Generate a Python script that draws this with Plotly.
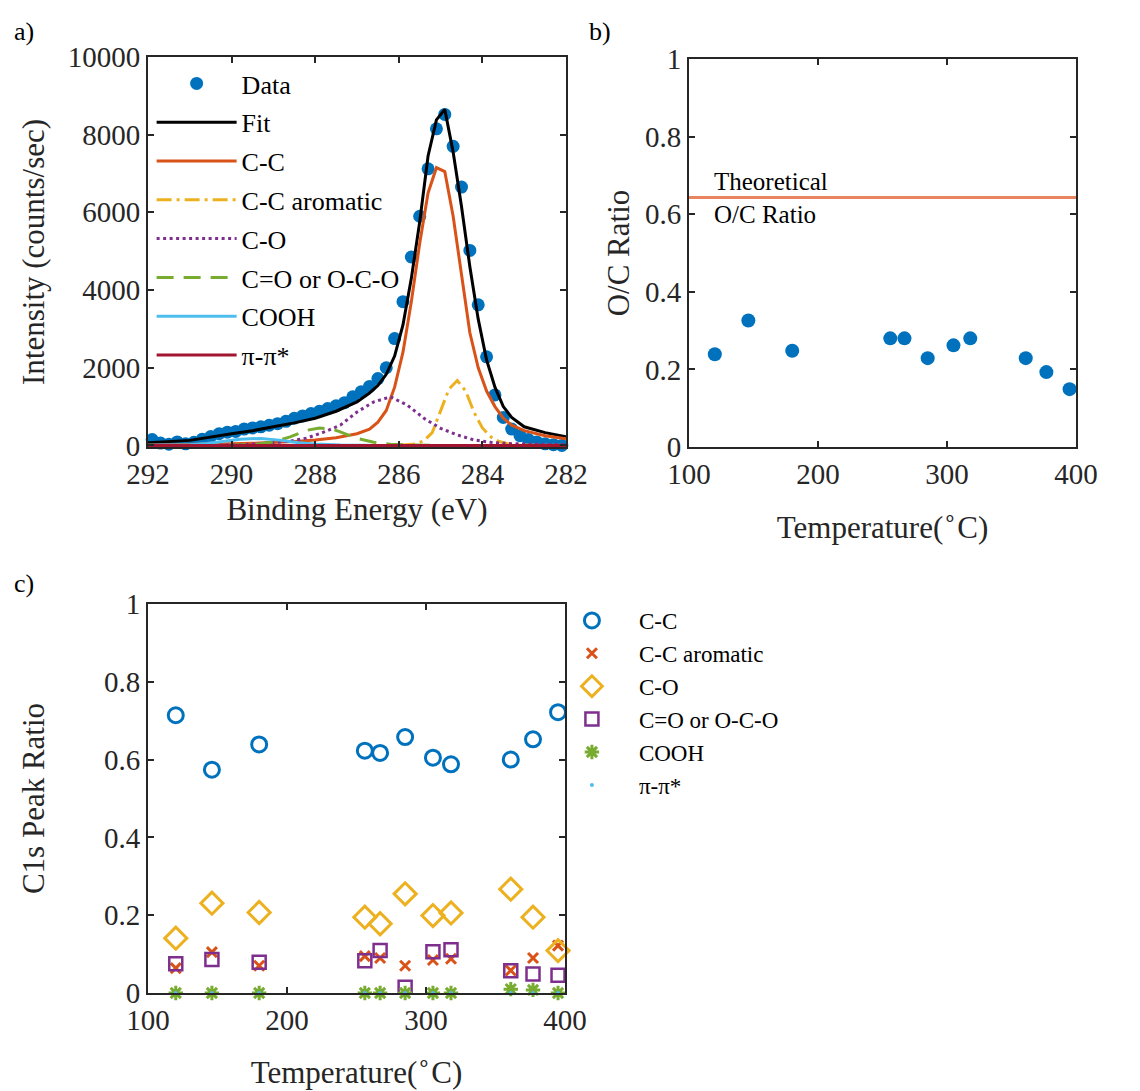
import plotly.graph_objects as go

# ---------------- Panel a: XPS C1s spectrum ----------------
data_energy = [291.9, 291.7, 291.5, 291.3, 291.1, 290.9, 290.7, 290.5, 290.3, 290.1,
               289.9, 289.7, 289.5, 289.3, 289.1, 288.9, 288.7, 288.5, 288.3, 288.1,
               287.9, 287.7, 287.5, 287.3, 287.1, 286.9, 286.7, 286.5, 286.3, 286.1,
               285.9, 285.7, 285.5, 285.3, 285.1, 284.9, 284.7, 284.5, 284.3, 284.1,
               283.9, 283.7, 283.5, 283.3, 283.1, 282.9, 282.7, 282.5, 282.3, 282.1]
data_intensity = [150, 60, 30, 90, 40, 80, 160, 230, 300, 340,
                  360, 420, 450, 480, 520, 560, 620, 700, 760, 820,
                  880, 950, 1020, 1100, 1250, 1380, 1520, 1720, 2000, 2750,
                  3700, 4850, 5900, 7120, 8150, 8520, 7700, 6650, 5020, 3620,
                  2280, 1300, 720, 420, 250, 150, 90, 40, 20, 0]

fit_energy = [292.0, 291.0, 290.0, 289.5, 289.0, 288.5, 288.0, 287.5, 287.0, 286.7,
              286.5, 286.3, 286.1, 285.9, 285.7, 285.5, 285.3, 285.1, 284.9, 284.7,
              284.5, 284.3, 284.1, 283.9, 283.7, 283.5, 283.3, 283.0, 282.5, 282.0]
fit_total = [70, 130, 300, 380, 480, 580, 700, 880, 1120, 1350,
             1540, 1830, 2300, 3100, 4300, 5750, 7450, 8380, 8650, 7550,
             6150, 4600, 3250, 2200, 1500, 1000, 720, 480, 330, 220]
fit_cc = [10, 20, 40, 55, 70, 100, 140, 200, 300, 420,
          600, 900, 1500, 2400, 3700, 5200, 6500, 7150, 7050, 5900,
          4400, 2900, 2000, 1400, 1000, 700, 520, 380, 250, 170]

arom_energy = [292.0, 286.0, 285.6, 285.4, 285.2, 285.0, 284.8, 284.6, 284.4, 284.2,
               284.0, 283.8, 283.6, 283.4, 283.0, 282.0]
arom_vals = [0, 0, 40, 120, 330, 870, 1450, 1670, 1400, 850,
             450, 220, 100, 45, 10, 0]

co_energy = [292.0, 290.0, 289.4, 289.0, 288.6, 288.2, 287.8, 287.4, 287.0, 286.6,
             286.2, 285.8, 285.4, 285.0, 284.6, 284.2, 283.8, 283.4, 283.0, 282.0]
co_vals = [0, 10, 40, 70, 110, 190, 340, 520, 860, 1120,
           1250, 1040, 700, 440, 270, 140, 80, 50, 35, 20]

cdo_energy = [292.0, 290.0, 289.4, 289.0, 288.6, 288.2, 287.9, 287.6, 287.4, 287.0,
              286.6, 286.2, 285.8, 285.0, 282.0]
cdo_vals = [0, 5, 30, 90, 220, 390, 450, 420, 350, 180, 80, 30, 10, 0, 0]

cooh_energy = [292.0, 291.0, 290.6, 290.2, 289.8, 289.3, 288.8, 288.4, 288.0, 287.4, 286.5, 282.0]
cooh_vals = [5, 20, 50, 110, 160, 180, 130, 70, 35, 10, 0, 0]

pipi_energy = [292.0, 282.0]
pipi_vals = [0, 0]

# ---------------- Panel b / c: temperature series ----------------
temperature = [120, 146, 180, 256, 267, 285, 305, 318, 361, 377, 395]
oc_ratio = [0.239, 0.326, 0.248, 0.280, 0.280, 0.229, 0.262, 0.280, 0.229, 0.193, 0.149]
theoretical_oc = 0.643
theory_x = [100, 400]

ratio_cc = [0.714, 0.574, 0.639, 0.623, 0.617, 0.658, 0.605, 0.588, 0.600, 0.652, 0.722]
ratio_cc_arom = [0.064, 0.105, 0.070, 0.095, 0.090, 0.070, 0.085, 0.088, 0.058, 0.090, 0.122]
ratio_co = [0.141, 0.231, 0.207, 0.195, 0.178, 0.255, 0.199, 0.206, 0.267, 0.195, 0.109]
ratio_cdo = [0.075, 0.086, 0.079, 0.083, 0.109, 0.015, 0.106, 0.111, 0.057, 0.049, 0.046]
ratio_cooh = [0, 0, 0, 0, 0, 0, 0, 0, 0.010, 0.008, 0]
ratio_pipi = [0, 0, 0, 0, 0, 0, 0, 0, 0, 0, 0]

x_ticks_a = [292, 290, 288, 286, 284, 282]
y_ticks_a = [0, 2000, 4000, 6000, 8000, 10000]
y_labels_a = ["0", "2000", "4000", "6000", "8000", "10000"]
t_ticks = [100, 200, 300, 400]
r_ticks = [0, 0.2, 0.4, 0.6, 0.8, 1]
r_labels = ["0", "0.2", "0.4", "0.6", "0.8", "1"]

BLUE, ORANGE, YELLOW, PURPLE, GREEN, CYAN, DRED = (
    "#0072BD", "#D95319", "#EDB120", "#7E2F8E", "#77AC30", "#4DBEEE", "#A2142F")
FONT = "Liberation Serif, Times New Roman, serif"
AXC = "#262626"

fig = go.Figure()

# panel a traces
fig.add_trace(go.Scatter(x=data_energy, y=data_intensity, mode="markers", name="Data",
                         marker=dict(color=BLUE, size=13), cliponaxis=False,
                         xaxis="x", yaxis="y", legend="legend", legendgroup="a1"))
lines_a = [
    ("Fit", fit_energy, fit_total, "black", "solid"),
    ("C-C", fit_energy, fit_cc, ORANGE, "solid"),
    ("C-C aromatic", arom_energy, arom_vals, YELLOW, "15px,5px,3px,5px"),
    ("C-O", co_energy, co_vals, PURPLE, "3px,3.5px"),
    ("C=O or O-C-O", cdo_energy, cdo_vals, GREEN, "17px,10px"),
    ("COOH", cooh_energy, cooh_vals, CYAN, "solid"),
    ("π-π*", pipi_energy, pipi_vals, DRED, "solid"),
]
for i, (nm, xx, yy, col, dash) in enumerate(lines_a):
    fig.add_trace(go.Scatter(x=xx, y=yy, mode="lines", name=nm,
                             line=dict(color=col, width=3, dash=dash),
                             xaxis="x", yaxis="y", legend="legend",
                             legendgroup="a%d" % (i + 2)))

# panel b
fig.add_trace(go.Scatter(x=theory_x, y=[theoretical_oc, theoretical_oc], mode="lines",
                         line=dict(color="rgb(232,132,96)", width=3), showlegend=False,
                         xaxis="x2", yaxis="y2"))
fig.add_trace(go.Scatter(x=temperature, y=oc_ratio, mode="markers", showlegend=False,
                         marker=dict(color=BLUE, size=14), xaxis="x2", yaxis="y2"))

# panel c
series_c = [
    ("C-C", ratio_cc, "circle-open", BLUE, 15, 3),
    ("C-C aromatic", ratio_cc_arom, "x-thin-open", ORANGE, 10, 3),
    ("C-O", ratio_co, "diamond-open", YELLOW, 17, 3),
    ("C=O or O-C-O", ratio_cdo, "square-open", PURPLE, 13, 2.5),
    ("COOH", ratio_cooh, "asterisk-open", GREEN, 12, 3),
    ("π-π*", ratio_pipi, "circle", CYAN, 4, 0),
]
for nm, yy, sym, col, sz, lw in series_c:
    fig.add_trace(go.Scatter(x=temperature, y=yy, mode="markers", name=nm,
                             marker=dict(symbol=sym, size=sz, color=col,
                                         line=dict(color=col, width=lw)),
                             cliponaxis=False, xaxis="x3", yaxis="y3", legend="legend2"))

ax_common = dict(showline=True, linecolor=AXC, linewidth=2, mirror="allticks",
                 ticks="inside", ticklen=6, tickwidth=2, tickcolor=AXC,
                 showgrid=False, zeroline=False, automargin=False,
                 tickfont=dict(family=FONT, size=29, color=AXC),
                 title_font=dict(family=FONT, size=31, color=AXC))

fig.update_layout(
    width=1140, height=1091, margin=dict(l=0, r=0, t=0, b=0),
    paper_bgcolor="white", plot_bgcolor="white",
    font=dict(family=FONT, color=AXC),
    xaxis=dict(ax_common, domain=[0.1298, 0.4965], range=[292, 282], tickvals=x_ticks_a,
               anchor="y", title=dict(text="Binding Energy (eV)", standoff=10)),
    yaxis=dict(ax_common, domain=[0.5903, 0.9478], range=[-40, 10000], tickvals=y_ticks_a,
               ticktext=y_labels_a, anchor="x",
               title=dict(text="Intensity (counts/sec)", standoff=14)),
    xaxis2=dict(ax_common, domain=[0.6044, 0.9439], range=[100, 400], tickvals=t_ticks,
                anchor="y2", title=dict(text="Temperature(<sup>∘</sup>C)", standoff=28)),
    yaxis2=dict(ax_common, domain=[0.5903, 0.9459], range=[0, 1], tickvals=r_ticks,
                ticktext=r_labels, anchor="x2", title=dict(text="O/C Ratio", standoff=6)),
    xaxis3=dict(ax_common, domain=[0.1298, 0.4956], range=[100, 400], tickvals=t_ticks,
                anchor="y3", title=dict(text="Temperature(<sup>∘</sup>C)", standoff=26)),
    yaxis3=dict(ax_common, domain=[0.0898, 0.4464], range=[0, 1], tickvals=r_ticks,
                ticktext=r_labels, anchor="x3", title=dict(text="C1s Peak Ratio", standoff=50)),
    legend=dict(x=0.133, y=0.945, xanchor="left", yanchor="top", bgcolor="rgba(0,0,0,0)",
                font=dict(family=FONT, size=26, color="black"), itemwidth=80,
                traceorder="grouped", tracegroupgap=2),
    legend2=dict(x=0.478, y=0.451, xanchor="left", yanchor="top", bgcolor="rgba(0,0,0,0)",
                 font=dict(family=FONT, size=23, color="black"), itemwidth=84),
    annotations=[
        dict(text="a)", x=12 / 1140, y=1 - 15 / 1091, xref="paper", yref="paper",
             showarrow=False, font=dict(family=FONT, size=26, color="black")),
        dict(text="b)", x=600 / 1140, y=1 - 15 / 1091, xref="paper", yref="paper",
             showarrow=False, font=dict(family=FONT, size=26, color="black")),
        dict(text="c)", x=12 / 1140, y=1 - 583 / 1091, xref="paper", yref="paper",
             showarrow=False, font=dict(family=FONT, size=26, color="black")),
        dict(text="Theoretical<br>O/C Ratio", x=118, y=theoretical_oc, xref="x2", yref="y2",
             xanchor="left", yanchor="middle", align="left", showarrow=False,
             font=dict(family=FONT, size=25, color="black")),
    ],
)

fig.write_html("out.html")
